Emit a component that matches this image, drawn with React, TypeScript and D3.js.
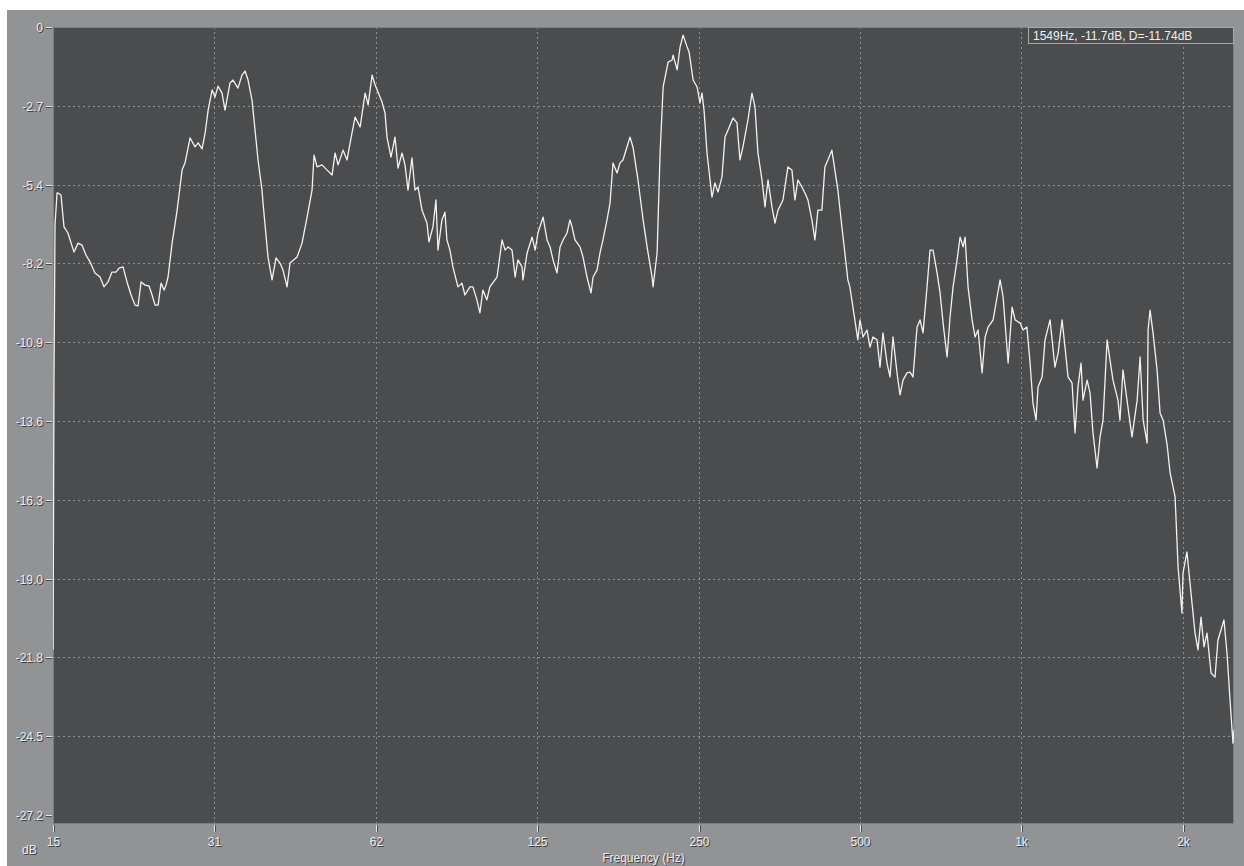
import React from 'react';
import * as d3 from 'd3';

const freqHz = [
  15.63, 15.69, 15.76, 15.9, 15.96, 16.17, 16.38, 16.66, 17.1, 17.4, 17.7, 18.0, 18.32, 18.71, 19.12, 19.45, 19.79, 20.13, 20.48, 20.75,
  21.11, 21.47, 21.85, 22.23, 22.51, 22.81, 23.2, 23.6, 23.91, 24.22, 24.54, 24.85, 25.18, 25.39, 25.61, 26.06, 26.63, 27.2, 27.55, 28.15,
  28.76, 29.14, 29.64, 30.03, 30.42, 30.95,
  31.33, 31.74, 32.29, 32.71, 33.42, 33.85, 34.58, 35.18, 35.64, 36.11, 36.73, 37.21, 37.69, 38.34, 38.51, 39.34, 40.03, 40.72, 41.42, 41.96,
  42.69, 43.24, 44.57, 45.53, 46.53, 47.53, 47.94, 48.57, 49.62, 50.7, 51.8, 52.47, 53.15, 54.31, 55.24, 55.97, 57.18, 58.43, 59.7, 60.47,
  61.52, 62.32,
  64.19, 65.02, 65.58, 66.72, 67.87, 68.76, 69.95, 70.85, 71.77, 73.01, 73.96, 74.92, 76.21, 77.86, 78.53, 79.89, 80.93, 81.63, 83.03, 84.11,
  84.83, 85.93, 87.04, 88.94, 90.48, 91.65, 93.64, 94.84, 96.49, 97.74, 99.01, 100.7, 102.0, 105.2, 107.5, 108.9, 110.3, 112.2, 113.7, 115.1,
  117.1, 117.6, 119.7, 122.3, 123.9,
  125.4, 128.2, 130.4, 132.1, 133.8, 136.1, 137.9, 139.7, 142.1, 143.9, 145.2, 147.0, 150.2, 152.2, 154.8, 157.5, 158.9, 161.6, 163.7, 165.8,
  168.7, 170.9, 173.1, 176.1, 178.4, 180.7, 183.8, 186.2, 188.6, 192.7, 197.0, 200.4, 204.7, 205.6, 209.2, 211.9, 214.7, 219.3, 223.1, 224.1,
  228.0, 230.9, 233.9, 238.0, 240.0, 244.2, 248.4,
  251.5, 253.7, 255.9, 259.2, 264.8, 268.2, 271.7, 276.4, 280.0, 283.6, 289.8, 294.8, 298.6, 302.5, 309.0, 314.4, 318.5, 322.6, 328.2, 332.5,
  336.8, 342.6, 347.0, 351.6, 359.2, 366.9, 373.3, 378.1, 383.0, 389.6, 394.7, 399.8, 406.7, 412.0, 417.3, 424.5, 430.0, 435.6, 443.1, 448.9,
  454.7, 462.6, 468.6, 474.6, 478.7, 489.1, 495.4,
  500, 506.5, 515.3, 522.0, 528.7, 537.9, 544.9, 551.9, 561.5, 568.8, 576.2, 586.1, 593.8, 601.5, 611.9, 619.8, 627.9, 638.8, 647.1, 655.5,
  666.8, 675.5, 684.3, 696.2, 705.2, 714.4, 726.8, 736.1, 745.7, 758.7, 768.5, 778.5, 785.2, 795.3, 809.2, 819.6, 830.3, 844.7, 855.7, 866.8,
  885.7, 900.9, 912.6, 924.5, 944.6, 960.9, 973.4, 994.6,
  1007, 1024, 1038, 1051, 1065, 1074, 1093, 1107, 1131, 1155, 1171, 1191, 1206, 1222, 1243, 1259, 1275, 1292, 1303, 1326,
  1343, 1360, 1384, 1402, 1420, 1445, 1463, 1482, 1514, 1527, 1547, 1574, 1608, 1644, 1665, 1687, 1716, 1723, 1738, 1760,
  1791, 1814, 1838, 1870, 1894, 1935, 1960,
  1993, 2002, 2036, 2063, 2108, 2135, 2163, 2191, 2219, 2258, 2297, 2326, 2387, 2418, 2450, 2481, 2492,
];

const levelDb = [
  -21.5, -12.36, -6.83, -5.73, -5.73, -5.8, -6.9, -7.11, -7.77, -7.46, -7.53, -7.87, -8.11, -8.49, -8.63, -8.97, -8.8, -8.46, -8.46, -8.32,
  -8.28, -8.8, -9.25, -9.6, -9.63, -8.8, -8.91, -8.94, -9.25, -9.6, -9.6, -8.84, -9.08, -8.91, -8.63, -7.46, -6.32, -4.94, -4.69, -3.83,
  -4.14, -4.0, -4.21, -3.66, -2.87, -2.17,
  -2.42, -2.04, -2.28, -2.87, -1.93, -1.83, -2.11, -1.66, -1.52, -1.83, -2.52, -3.56, -4.59, -5.63, -6.08, -7.94, -8.73, -7.97, -8.15, -8.39,
  -8.97, -8.15, -7.94, -7.46, -6.56, -5.63, -4.42, -4.83, -4.76, -4.94, -5.11, -4.35, -4.76, -4.25, -4.59, -4.0, -3.11, -3.45, -2.28, -2.69,
  -1.66, -2.0,
  -2.59, -2.97, -3.8, -4.49, -3.8, -4.87, -4.35, -4.76, -5.63, -4.52, -5.63, -5.52, -6.32, -6.77, -7.42, -6.9, -5.97, -7.7, -6.66, -6.39,
  -7.35, -7.7, -8.28, -8.97, -8.84, -9.25, -8.97, -8.97, -9.42, -9.87, -9.08, -9.42, -8.97, -8.63, -7.35, -7.7, -7.59, -7.7, -8.63, -8.04,
  -8.28, -8.73, -7.8, -7.25, -7.7,
  -7.11, -6.56, -7.35, -7.59, -8.04, -8.49, -7.59, -7.35, -7.11, -6.66, -6.9, -7.35, -7.59, -7.94, -8.63, -9.18, -8.63, -8.39, -7.8, -7.35,
  -6.66, -6.08, -4.69, -5.04, -4.69, -4.59, -4.14, -3.8, -4.14, -5.28, -6.66, -7.59, -8.63, -8.97, -7.8, -4.35, -2.07, -1.21, -1.14, -0.97,
  -1.48, -0.69, -0.28, -0.69, -0.86, -1.83, -2.07,
  -2.62, -2.28, -2.87, -4.35, -5.87, -5.38, -5.7, -5.18, -3.8, -3.56, -3.14, -3.31, -4.59, -4.14, -3.21, -2.28, -2.76, -4.35, -5.28, -6.21,
  -5.28, -6.21, -6.77, -6.32, -5.97, -4.83, -4.94, -5.97, -5.28, -5.52, -5.73, -5.97, -6.66, -7.35, -6.32, -6.32, -4.83, -4.59, -4.25, -4.94,
  -5.63, -6.9, -7.8, -8.73, -8.97, -10.11, -10.8,
  -10.11, -10.7, -10.46, -11.05, -10.7, -10.8, -11.74, -10.56, -11.6, -12.08, -10.7, -11.94, -12.7, -12.19, -11.94, -11.91, -12.08, -10.36, -10.11, -10.56,
  -8.97, -7.7, -7.7, -8.49, -9.18, -10.22, -11.39, -10.01, -8.97, -8.04, -7.25, -7.59, -7.25, -8.97, -10.11, -10.7, -10.46, -11.94, -10.7, -10.36,
  -10.11, -9.32, -8.73, -9.32, -11.6, -9.67, -10.11, -10.22,
  -10.46, -10.36, -11.6, -12.98, -13.57, -12.43, -12.08, -10.8, -10.11, -11.74, -11.25, -10.11, -11.05, -12.08, -12.29, -14.01, -12.43, -11.6, -12.88, -12.19,
  -12.63, -14.01, -15.22, -14.15, -13.57, -10.8, -11.49, -12.19, -12.88, -13.57, -11.84, -12.88, -14.15, -12.88, -11.39, -13.57, -14.36, -10.46, -9.77, -10.56,
  -11.84, -13.32, -13.57, -14.43, -15.39, -16.22, -18.64,
  -20.23, -18.85, -18.12, -19.19, -20.92, -21.5, -20.37, -21.4, -20.92, -22.3, -22.44, -21.16, -20.47, -21.61, -23.23, -24.72, -24.27,
];

const xTickValues = [15.625, 31.25, 62.5, 125, 250, 500, 1000, 2000];
const xTickLabels = ['15', '31', '62', '125', '250', '500', '1k', '2k'];
const yTickValues = [0, -2.72, -5.44, -8.16, -10.88, -13.6, -16.32, -19.04, -21.76, -24.48, -27.2];
const yTickLabels = ['0', '-2.7', '-5.4', '-8.2', '-10.9', '-13.6', '-16.3', '-19.0', '-21.8', '-24.5', '-27.2'];
const xDomain = [15.625, 2492];
const yDomain = [-27.2, 0];
const readoutText = '1549Hz, -11.7dB, D=-11.74dB';
const xAxisTitle = 'Frequency (Hz)';
const yAxisTitle = 'dB';

const FONT = '"Liberation Sans", Arial, sans-serif';

function ShadowText(props: { x: number; y: number; anchor?: string; size?: number; children: string }) {
  const { x, y, anchor = 'start', size = 12, children } = props;
  return (
    <g fontFamily={FONT} fontSize={size} textAnchor={anchor}>
      <text x={x + 1} y={y + 1} fill="#3c3d3f">{children}</text>
      <text x={x} y={y} fill="#ececec">{children}</text>
    </g>
  );
}

export default function App() {
  const W = 1244;
  const H = 866;
  const left = 53;
  const right = 1234;
  const top = 27;
  const bottom = 824;
  const yZeroBottom = 815;

  const x = d3.scaleLog().base(2).domain(xDomain).range([left, right]);
  const y = d3.scaleLinear().domain(yDomain).range([yZeroBottom, top]);

  const line = d3
    .line<number>()
    .x((_, i) => x(freqHz[i]))
    .y((d) => y(d));
  const pathD = line(levelDb) || '';

  return (
    <svg
      width={W}
      height={H}
      style={{ position: 'absolute', left: 0, top: 0, display: 'block' }}
    >
      <rect x={0} y={0} width={W} height={H} fill="#ffffff" />
      <rect x={7} y={10} width={W - 7} height={H - 10} fill="#929395" />
      <rect x={left} y={top} width={right - left} height={bottom - top} fill="#4b4c4e" />

      <defs>
        <clipPath id="plotClip">
          <rect x={left} y={top} width={right - left} height={bottom - top} />
        </clipPath>
      </defs>

      {/* grid */}
      <g stroke="#8e8f91" strokeWidth={1} strokeDasharray="2,3">
        {xTickValues.slice(1).map((v, i) => (
          <line key={'gx' + i} x1={Math.round(x(v)) + 0.5} x2={Math.round(x(v)) + 0.5} y1={top} y2={bottom} />
        ))}
        {yTickValues.slice(1, yTickValues.length - 1).map((v, i) => (
          <line key={'gy' + i} x1={left} x2={right} y1={Math.round(y(v)) + 0.5} y2={Math.round(y(v)) + 0.5} />
        ))}
      </g>

      {/* plot border */}
      <rect x={left + 0.5} y={top + 0.5} width={right - left - 1} height={bottom - top - 1} fill="none" stroke="#7c7d80" strokeWidth={1} />

      {/* curve */}
      <g clipPath="url(#plotClip)">
        <path d={pathD} fill="none" stroke="#f2f2f2" strokeWidth={1.3} strokeLinejoin="round" />
      </g>

      {/* y ticks */}
      {yTickValues.map((v, i) => {
        const yy = Math.round(y(v)) + 0.5;
        return (
          <g key={'yt' + i}>
            <line x1={46} x2={52} y1={yy + 1} y2={yy + 1} stroke="#4a4b4d" />
            <line x1={46} x2={52} y1={yy} y2={yy} stroke="#e6e6e6" />
            <ShadowText x={43} y={yy + 4} anchor="end">{yTickLabels[i]}</ShadowText>
          </g>
        );
      })}

      {/* x ticks */}
      {xTickValues.map((v, i) => {
        const xx = Math.round(x(v)) + 0.5;
        return (
          <g key={'xt' + i}>
            <line x1={xx + 1} x2={xx + 1} y1={bottom + 1} y2={bottom + 8} stroke="#4a4b4d" />
            <line x1={xx} x2={xx} y1={bottom + 1} y2={bottom + 8} stroke="#e6e6e6" />
            <ShadowText x={xx} y={846} anchor="middle">{xTickLabels[i]}</ShadowText>
          </g>
        );
      })}

      <ShadowText x={22} y={854}>{yAxisTitle}</ShadowText>
      <ShadowText x={(left + right) / 2} y={862} anchor="middle">{xAxisTitle}</ShadowText>

      {/* readout box */}
      <rect x={1028.5} y={27.5} width={205} height={16} fill="#4b4c4e" stroke="#a9aaac" strokeWidth={1} />
      <text x={1033} y={40} fill="#f0f0f0" fontFamily={FONT} fontSize={12}>{readoutText}</text>
    </svg>
  );
}
